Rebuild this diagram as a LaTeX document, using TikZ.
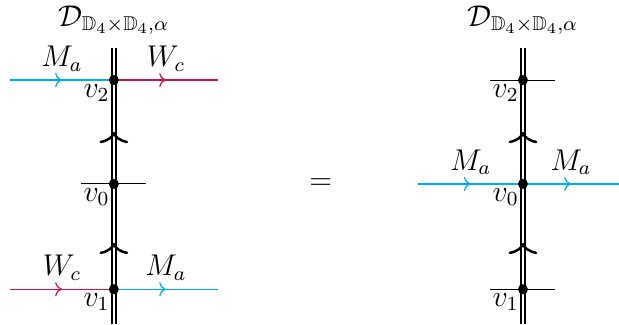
\documentclass[tikz,border=0pt]{standalone}
\usepackage{amsmath,amssymb}
\usetikzlibrary{arrows.meta, decorations.markings, positioning}
\definecolor{mcyan}{RGB}{0,174,239}
\definecolor{wred}{RGB}{212,16,82}

\begin{document}
\begin{tikzpicture}[font=\large,
  wall/.style={draw, double, double distance=0.8pt, line width=0.85pt},
  vert/.style={circle, fill, inner sep=0pt, minimum size=4pt},
  midarrow/.style={line width=0.5pt, postaction={decorate}, decoration={markings,
    mark=at position 0.5 with {\arrow{To}}}},
  fuse/.style={decorate, decoration={markings,
    mark=at position #1 with {\arrow[line width=1pt]{To[length=4.5pt,width=11.5pt]}}}},
  lname/.style={above, text=black},
  vlabel/.style={below left, inner sep=1.5pt},
  ttl/.style={inner sep=1pt}]
  \useasboundingbox (0,0) rectangle (8.70,4.555);

  % left side
  \coordinate (Ltop) at (1.60,3.88);
  \coordinate (Lbot) at (1.60,0);
  \coordinate (Lv2) at (1.60,3.43);
  \coordinate (Lv0) at (1.60,1.97);
  \coordinate (Lv1) at (1.60,0.49);
  \coordinate (La2) at (0.14,3.43);
  \coordinate (Lb2) at (3.065,3.43);
  \coordinate (La0) at (1.14,1.97);
  \coordinate (Lb0) at (2.05,1.97);
  \coordinate (La1) at (0.14,0.49);
  \coordinate (Lb1) at (3.065,0.49);

  \draw[wall] (Ltop) -- (Lbot);
  \path[fuse=0.5] (Lv0) -- (Lv2);
  \path[fuse=0.44] (Lv1) -- (Lv0);
  \draw[mcyan, midarrow] (La2) -- node[lname] {$M_a$} (Lv2);
  \draw[wred, midarrow] (Lv2) -- node[lname] {$W_c$} (Lb2);
  \draw (La0) -- (Lb0);
  \draw[wred, midarrow] (La1) -- node[lname] {$W_c$} (Lv1);
  \draw[mcyan, midarrow] (Lv1) -- node[lname] {$M_a$} (Lb1);

  \node[vert] (Ld2) at (Lv2) {};
  \node[vert] (Ld0) at (Lv0) {};
  \node[vert] (Ld1) at (Lv1) {};
  \node[vlabel] (Ll2) at (Lv2) {$v_2$};
  \node[vlabel] (Ll0) at (Lv0) {$v_0$};
  \node[vlabel] (Ll1) at (Lv1) {$v_1$};
  \node[ttl] (Lttl) at (1.60,4.27) {$\mathcal{D}_{\mathbb{D}_4\times\mathbb{D}_4,\alpha}$};

  \node (eq) at (4.51,1.97) {$=$};

  % right side
  \coordinate (Rtop) at (7.35,3.88);
  \coordinate (Rbot) at (7.35,0);
  \coordinate (Rv2) at (7.35,3.43);
  \coordinate (Rv0) at (7.35,1.97);
  \coordinate (Rv1) at (7.35,0.49);
  \coordinate (Ra2) at (6.89,3.43);
  \coordinate (Rb2) at (7.80,3.43);
  \coordinate (Ra0) at (5.88,1.97);
  \coordinate (Rb0) at (8.70,1.97);
  \coordinate (Ra1) at (6.89,0.49);
  \coordinate (Rb1) at (7.80,0.49);

  \draw[wall] (Rtop) -- (Rbot);
  \path[fuse=0.5] (Rv0) -- (Rv2);
  \path[fuse=0.44] (Rv1) -- (Rv0);
  \draw (Ra2) -- (Rb2);
  \draw[mcyan, midarrow] (Ra0) -- node[lname] {$M_a$} (Rv0);
  \draw[mcyan, midarrow] (Rv0) -- node[lname] {$M_a$} (Rb0);
  \draw (Ra1) -- (Rb1);

  \node[vert] (Rd2) at (Rv2) {};
  \node[vert] (Rd0) at (Rv0) {};
  \node[vert] (Rd1) at (Rv1) {};
  \node[vlabel] (Rl2) at (Rv2) {$v_2$};
  \node[vlabel] (Rl0) at (Rv0) {$v_0$};
  \node[vlabel] (Rl1) at (Rv1) {$v_1$};
  \node[ttl] (Rttl) at (7.35,4.27) {$\mathcal{D}_{\mathbb{D}_4\times\mathbb{D}_4,\alpha}$};
\end{tikzpicture}
\end{document}
